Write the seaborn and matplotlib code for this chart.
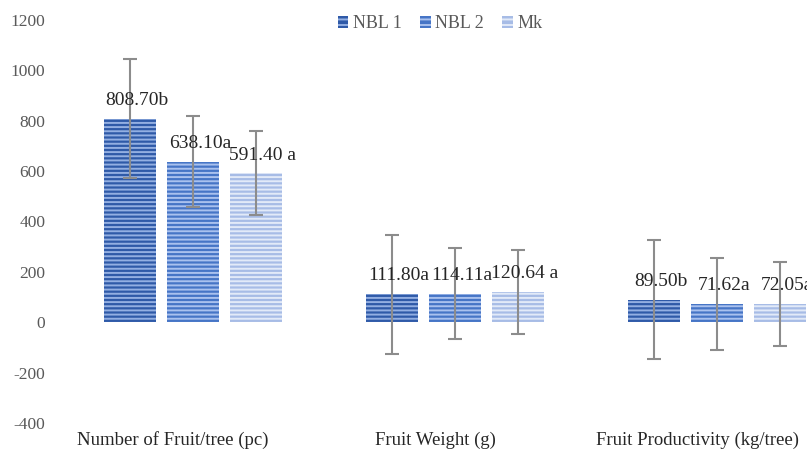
import matplotlib
matplotlib.use("Agg")
import matplotlib.pyplot as plt
import matplotlib.transforms as mtransforms
from matplotlib.patches import Rectangle
import seaborn as sns
import pandas as pd

categories = ["Number of Fruit/tree (pc)", "Fruit Weight (g)", "Fruit Productivity (kg/tree)"]
series = ["NBL 1", "NBL 2", "Mk"]
nbl1 = [808.70, 111.80, 89.50]
nbl2 = [638.10, 114.11, 71.62]
mk = [591.40, 120.64, 72.05]
err_nbl1 = [236, 236, 236]
err_nbl2 = [182, 182, 182]
err_mk = [166, 166, 166]
labels_nbl1 = ["808.70b", "111.80a", "89.50b"]
labels_nbl2 = ["638.10a", "114.11a", "71.62a"]
labels_mk = ["591.40 a", "120.64 a", "72.05a"]
yticks = [-400, -200, 0, 200, 400, 600, 800, 1000, 1200]

values = [nbl1, nbl2, mk]
errors = [err_nbl1, err_nbl2, err_mk]
labels = [labels_nbl1, labels_nbl2, labels_mk]

rows = []
for s, vals in zip(series, values):
    for c, v in zip(categories, vals):
        rows.append({"category": c, "series": s, "value": v})
df = pd.DataFrame(rows)

sns.set_theme(style="white")
plt.rcParams["font.family"] = ["Liberation Serif", "DejaVu Serif"]
plt.rcParams["axes.unicode_minus"] = False
plt.rcParams["hatch.linewidth"] = 1.4

face = ["#2f5aa8", "#4675c6", "#a7bce6"]
hatchc = ["#93afe2", "#a9c1ee", "#e2eaf8"]

fig = plt.figure(figsize=(8.07, 4.51), dpi=100)
left = 62 / 807
ax = fig.add_axes([left, 1 - 423 / 451, 1 - left, (423 - 20) / 451])

sns.barplot(data=df, x="category", y="value", hue="series", order=categories,
            hue_order=series, palette=face, width=0.72, gap=0.17,
            errorbar=None, legend=False, ax=ax)

bar_containers = list(ax.containers)
for i, cont in enumerate(bar_containers):
    for j, bar in enumerate(cont.patches):
        bar.set_facecolor(face[i])
        bar.set_edgecolor(hatchc[i])
        bar.set_linewidth(0)
        bar.set_hatch("----")
        xc = bar.get_x() + bar.get_width() / 2
        h = bar.get_height()
        ax.errorbar(xc, h, yerr=errors[i][j], color="#8c8c8c", elinewidth=1.5,
                    capsize=5, capthick=1.5, zorder=5)
        ax.annotate(labels[i][j], (xc, h), xytext=(5, 7), textcoords="offset points",
                    ha="center", va="bottom", fontsize=14, color="#262626", zorder=6)

ax.set_ylim(-400, 1200)
ax.set_yticks(yticks)
ax.set_yticklabels([str(t) for t in yticks])
ax.set_xlim(-0.5, 2.5 - (848 - 807) / 262)
ax.set_xlabel("")
ax.set_ylabel("")
for sp in ax.spines.values():
    sp.set_visible(False)
ax.tick_params(axis="y", length=0, pad=12, labelsize=12.5, labelcolor="#595959")
ax.tick_params(axis="x", length=0, pad=6, labelsize=13.5, labelcolor="#262626")
offset = mtransforms.ScaledTranslation(-20 / 100, 0, fig.dpi_scale_trans)
for lab in ax.get_xticklabels():
    lab.set_transform(lab.get_transform() + offset)

handles = [Rectangle((0, 0), 1, 1, facecolor=face[i], edgecolor=hatchc[i],
                     linewidth=0, hatch="---") for i in range(3)]
leg = ax.legend(handles, series, loc="upper center",
                bbox_to_anchor=(440 / 807, 1 + 1 / 451), bbox_transform=fig.transFigure,
                ncol=3, frameon=False, fontsize=13,
                handlelength=0.6, handleheight=0.6, handletextpad=0.25, columnspacing=1.0,
                labelcolor="#595959")

fig.savefig("out.png", dpi=100)
